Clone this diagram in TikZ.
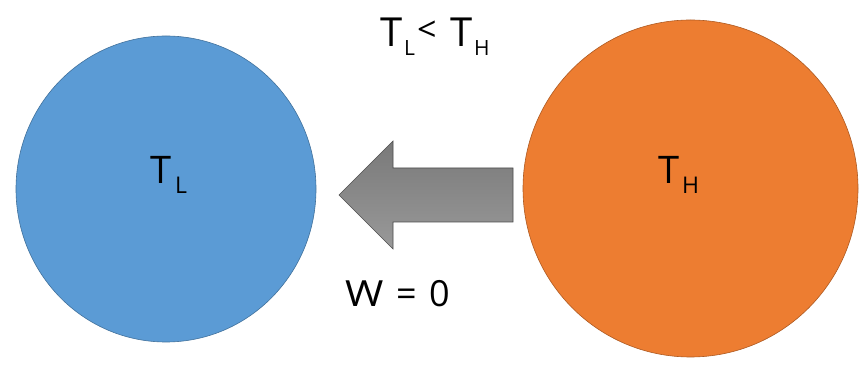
\documentclass[tikz,border=0pt]{standalone}
\usepackage{fontspec}
\setmainfont{Open Sans}
\usetikzlibrary{shapes.geometric}
\definecolor{bluefill}{HTML}{5B9BD5}
\definecolor{blueline}{HTML}{41719C}
\definecolor{orangefill}{HTML}{ED7D31}
\definecolor{orangeline}{HTML}{AE5A21}
\tikzset{
  lbl/.style={anchor=base west, inner sep=0pt, outer sep=0pt, text=black},
  big/.style={lbl, font=\fontsize{38}{38}\selectfont},
  sub/.style={lbl, font=\fontsize{23}{23}\selectfont},
  ball/.style={ellipse, draw, line width=0.6pt, inner sep=0pt}
}
\begin{document}
\begin{tikzpicture}[x=1pt,y=1pt]
\useasboundingbox (0,0) rectangle (867,369);
\fill[white] (0,0) rectangle (867,369);
% bodies
\node[ball, fill=bluefill, draw=blueline, minimum width=300pt, minimum height=306pt] (cold) at (166,180) {};
\node[ball, fill=orangefill, draw=orangeline, minimum width=335pt, minimum height=337pt] (hot) at (690.5,180.5) {};
% arrow
\coordinate (tip) at (339,174);
\shade[top color=gray!95!black, bottom color=gray!80, draw=black!70, line width=0.6pt]
  (tip) -- (393,228) -- (393,201) -- (513,201) -- (513,147) -- (393,147) -- (393,120) -- cycle;
% labels in bodies
\node[big] (tl) at (150,185) {T};
\node[sub] (tlsub) at (175,175) {L};
\node[big] (th) at (658,185) {T};
\node[sub] (thsub) at (682,175) {H};
% top relation
\node[lbl, font=\fontsize{40}{40}\selectfont] (rt1) at (380,322) {T};
\node[lbl, font=\fontsize{21}{21}\selectfont] (rl) at (404,313) {L};
\node[lbl, font=\fontsize{34}{34}\selectfont] (rlt) at (417,327) {<};
\node[lbl, font=\fontsize{40}{40}\selectfont] (rt2) at (450,322) {T};
\node[lbl, font=\fontsize{21}{21}\selectfont] (rh) at (474,313) {H};
% work
\node[lbl, font=\fontsize{36}{36}\selectfont] (w) at (345,62) {\scalebox{1.15}[1]{W}};
\node[lbl, font=\fontsize{36}{36}\selectfont] (eq) at (396,62) {=};
\node[lbl, font=\fontsize{36}{36}\selectfont] (zero) at (429,62) {0};
\end{tikzpicture}
\end{document}
